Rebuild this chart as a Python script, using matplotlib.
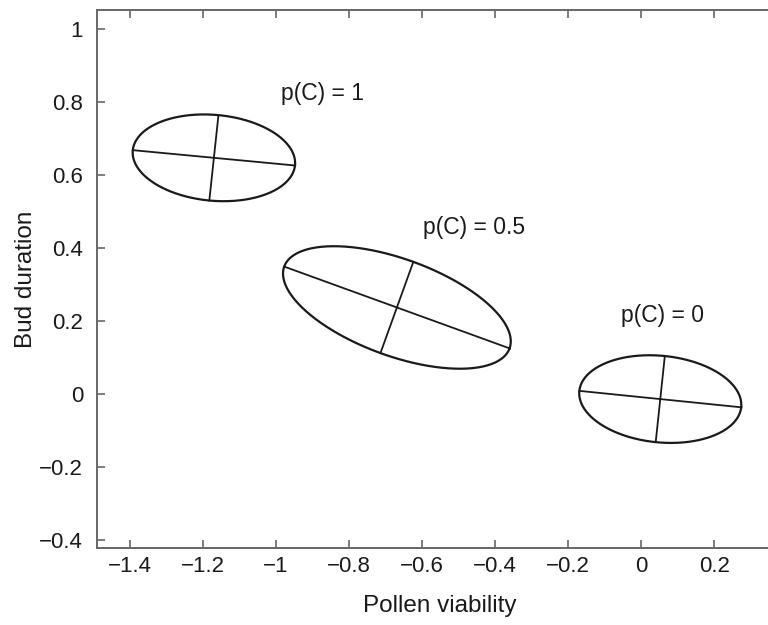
import numpy as np
import matplotlib
matplotlib.use("Agg")
import matplotlib.pyplot as plt

plt.rcParams['font.family'] = ['Liberation Sans', 'DejaVu Sans']

# Ellipse data: centre, half-vector along major axis, half-vector along minor axis
labels = ["p(C) = 1", "p(C) = 0.5", "p(C) = 0"]
centers = [(-1.170, 0.647), (-0.669, 0.237), (0.052, -0.014)]
major_half = [(0.222, -0.021), (0.3085, -0.112), (0.2215, -0.0225)]
minor_half = [(0.0125, 0.117), (0.045, 0.125), (0.0125, 0.118)]
label_pos = [(-0.986, 0.822), (-0.597, 0.456), (-0.056, 0.214)]

xticks = [-1.4, -1.2, -1.0, -0.8, -0.6, -0.4, -0.2, 0.0, 0.2]
xticklabels = ["\u22121.4", "\u22121.2", "\u22121", "\u22120.8", "\u22120.6", "\u22120.4", "\u22120.2", "0", "0.2"]
yticks = [-0.4, -0.2, 0.0, 0.2, 0.4, 0.6, 0.8, 1.0]
yticklabels = ["\u22120.4", "\u22120.2", "0", "0.2", "0.4", "0.6", "0.8", "1"]

fig = plt.figure(figsize=(7.68, 6.25), dpi=100)
ax = fig.add_axes([97/768, 1 - 548/625, 1 - 97/768 + 0.02, (548 - 10)/625])

t = np.linspace(0, 2*np.pi, 400)
for c, a, b in zip(centers, major_half, minor_half):
    c = np.array(c); a = np.array(a); b = np.array(b)
    pts = c[:, None] + a[:, None]*np.cos(t) + b[:, None]*np.sin(t)
    ax.plot(pts[0], pts[1], color='#1a1a1a', lw=1.6)
    ax.plot([c[0]-a[0], c[0]+a[0]], [c[1]-a[1], c[1]+a[1]], color='#1a1a1a', lw=1.3)
    ax.plot([c[0]-b[0], c[0]+b[0]], [c[1]-b[1], c[1]+b[1]], color='#1a1a1a', lw=1.3)

for lab, (lx, ly) in zip(labels, label_pos):
    ax.text(lx, ly, lab, fontsize=16.5, ha='left', va='center', color='#1a1a1a')

ax.set_xlim(-1.490, 0.389)
ax.set_ylim(-0.422, 1.052)
ax.set_xticks(xticks)
ax.set_xticklabels(xticklabels)
ax.set_yticks(yticks)
ax.set_yticklabels(yticklabels)
ax.tick_params(direction='in', length=6, width=1.2, labelsize=16, top=True, right=True,
               color='#666666', labelcolor='#1a1a1a')
ax.tick_params(axis='y', pad=10)
ax.tick_params(axis='x', pad=6)
for s in ax.spines.values():
    s.set_linewidth(1.4)
    s.set_color('#666666')

ax.set_xlabel("Pollen viability", fontsize=17.5, color='#1a1a1a', labelpad=13)
ax.set_ylabel("Bud duration", fontsize=17.5, color='#1a1a1a', labelpad=1.5)

fig.savefig("out.png", dpi=100)
